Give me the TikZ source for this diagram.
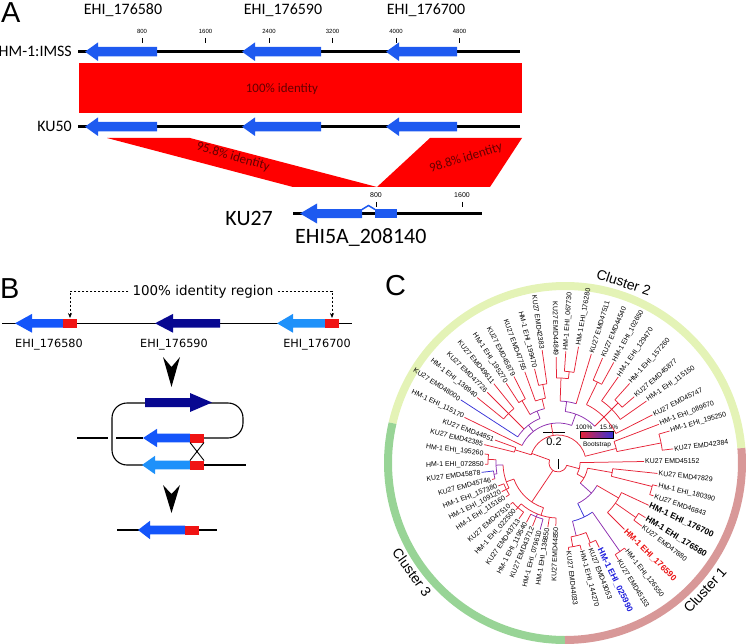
\documentclass[tikz,border=0pt]{standalone}
\usepackage{fontspec}
\setmainfont{Carlito}
\newfontfamily\dejavu{DejaVu Sans}
\newfontfamily\arialf{Liberation Sans}
\usetikzlibrary{arrows.meta}

\definecolor{gblue}{RGB}{30,90,240}
\definecolor{bandtext}{RGB}{100,0,0}
\definecolor{bblue}{RGB}{20,85,250}
\definecolor{bnavy}{RGB}{8,8,145}
\definecolor{blight}{RGB}{30,145,250}
\definecolor{bred}{RGB}{240,20,20}
\definecolor{tred}{RGB}{230,35,55}
\definecolor{tpur}{RGB}{140,45,175}
\definecolor{tblu}{RGB}{55,50,215}
\definecolor{lred}{RGB}{235,20,20}
\definecolor{lblu}{RGB}{30,30,220}
\definecolor{ctwo}{RGB}{228,243,182}
\definecolor{cthree}{RGB}{152,212,150}
\definecolor{cone}{RGB}{216,152,152}

% gene arrow: tip x, head base x, tail x, y, half shaft, half head, colour
\newcommand{\genearrow}[7]{%
  \fill[#7] (#1,-#4) -- (#2,{-#4+#6}) -- (#2,{-#4+#5}) -- (#3,{-#4+#5})
    -- (#3,{-#4-#5}) -- (#2,{-#4-#5}) -- (#2,{-#4-#6}) -- cycle;}
% red block: x1, x2, y, half height
\newcommand{\redblock}[4]{\fill[bred] (#1,{-#3+#4}) rectangle (#2,{-#3-#4});}
% tree pieces: radial (angle, r1, r2, colour) and arc (radius, a1, a2, colour)
\newcommand{\brr}[4]{\draw[treeline,#4] (#1:#2) -- (#1:#3);}
\newcommand{\brarc}[4]{\draw[treeline,#4] (#2:#1) arc[start angle=#2, end angle=#3, radius=#1];}

\begin{document}
\begin{tikzpicture}[x=1bp, y=1bp,
    panel/.style={font=\arialf\fontsize{29}{31}\selectfont, inner sep=0pt, anchor=base west},
    glab/.style={font=\fontsize{16}{18}\selectfont, inner sep=0pt, anchor=base},
    glab27/.style={font=\fontsize{22}{24}\selectfont, inner sep=0pt},
    scl/.style={font=\arialf\fontsize{6}{7}\selectfont, inner sep=0pt, anchor=base},
    tck/.style={line width=0.6bp},
    chrom/.style={line width=2.5bp},
    idlab/.style={font=\fontsize{13}{15}\selectfont, text=bandtext, inner sep=0pt},
    blab/.style={font=\dejavu\fontsize{11.3}{13}\selectfont, inner sep=0pt, anchor=base},
    bline/.style={line width=1.1bp},
    treeline/.style={line width=0.75bp},
    tiplab/.style={font=\arialf\fontsize{7}{8}\selectfont, inner sep=1bp},
    ringband/.style={line width=8bp},
    cluslab/.style={font=\arialf\fontsize{14}{16}\selectfont, inner sep=0pt}
]
\useasboundingbox (0,0) rectangle (750,-644);

% ---------------- A ----------------
\node[panel] (pa) at (1,-23) {A};
\node[glab] (g580) at (123,-15) {EHI\_176580};
\node[glab] (g590) at (283,-15) {EHI\_176590};
\node[glab] (g700) at (426,-15) {EHI\_176700};
\foreach \k/\v in {1/800,2/1600,3/2400,4/3200,5/4000,6/4800} {
  \draw[tck] ({78.5+63.5*\k},-38) -- ({78.5+63.5*\k},-43);
  \node[scl] (sc\k) at ({78.5+63.5*\k},-34) {\v};
}

\node[glab, anchor=base east] (hm) at (72,-57) {HM-1:IMSS};
\draw[chrom] (78,-51.7) -- (520,-51.7);
\genearrow{85}{98}{157}{51.7}{4.7}{9.3}{gblue}
\genearrow{242}{255}{321}{51.7}{4.7}{9.3}{gblue}
\genearrow{386}{399}{457}{51.7}{4.7}{9.3}{gblue}

\fill[red] (79,-63) rectangle (522,-113);
\node[idlab, anchor=base] (id100) at (282,-92.2) {100\% identity};

\node[glab, anchor=base east] (ku50) at (72,-131.5) {KU50};
\draw[chrom] (78,-126.7) -- (520,-126.7);
\genearrow{85}{98}{157}{126.7}{4.7}{9.3}{gblue}
\genearrow{242}{255}{321}{126.7}{4.7}{9.3}{gblue}
\genearrow{386}{399}{457}{126.7}{4.7}{9.3}{gblue}

% bands down to KU27
\fill[red] (107,-138) -- (190,-138) -- (377,-187) -- (293,-187) -- cycle;
\fill[red] (430,-138) -- (522,-138) -- (490,-187) -- (377,-187) -- cycle;
\node[idlab, rotate=-16] (id958) at (233,-157) {95.8\% identity};
\node[idlab, rotate=17] (id988) at (466,-158) {98.8\% identity};

\foreach \k/\v in {1/800,2/1600} {
  \draw[tck] ({290+86*\k},-202) -- ({290+86*\k},-207);
  \node[scl, font=\arialf\fontsize{7}{8}\selectfont] (kt\k) at ({290+86*\k},-198) {\v};
}
\node[glab27, anchor=base east] (ku27) at (273,-225) {KU27};
\draw[chrom] (293,-213.5) -- (482,-213.5);
\genearrow{300}{317}{362}{213.5}{4.5}{10}{gblue}
\draw[gblue, line width=1.5bp] (362,-209.5) -- (368.5,-205.5) -- (375,-209.5);
\fill[gblue] (375,-209) rectangle (397,-218);
\node[glab27, anchor=base west] (ehi5a) at (295,-243) {EHI5A\_208140};

% ---------------- B ----------------
\node[panel] (pb) at (0,-298) {B};
\draw[bline] (2,-323.3) -- (352,-323.3);
\genearrow{15}{32}{63}{323.3}{4.3}{9.4}{bblue}
\redblock{63}{77}{323.3}{4.5}
\genearrow{155}{173}{220}{323.3}{4.3}{9.4}{bnavy}
\genearrow{277}{293}{325}{323.3}{4.3}{9.4}{blight}
\redblock{325}{339}{323.3}{4.5}

\node[blab, font=\dejavu\fontsize{13.5}{15}\selectfont] (idreg) at (203,-295) {100\% identity region};
\coordinate (rl) at (70,-318);
\coordinate (rr) at (332,-318);
\draw[line width=0.7bp, dash pattern=on 2.5bp off 1.5bp, -{Stealth[length=5bp,width=4bp]}]
  ([xshift=-4bp,yshift=4bp]idreg.base west) -| (rl);
\draw[line width=0.7bp, dash pattern=on 2.5bp off 1.5bp, -{Stealth[length=5bp,width=4bp]}]
  ([xshift=4bp,yshift=4bp]idreg.base east) -| (rr);

\node[blab] (b580) at (49,-347) {EHI\_176580};
\node[blab] (b590) at (174,-347) {EHI\_176590};
\node[blab] (b700) at (317,-347) {EHI\_176700};

\fill (163,-357) -- (171.5,-387) -- (180,-357) -- (171.5,-367) -- cycle;

% recombination loop
\draw[bline, rounded corners=15bp] (204,-438) -- (243,-438) -- (243,-403) -- (112,-403) -- (112,-465) -- (143,-465);
\genearrow{212}{190}{145}{402.5}{4.5}{9.5}{bnavy}
\draw[bline] (77,-438) -- (108,-438);
\draw[bline] (116,-438) -- (143,-438);
\genearrow{143}{157}{190}{438}{4.3}{9.2}{bblue}
\redblock{190}{204}{438}{4.5}
\genearrow{142}{155}{190}{465}{4.3}{9.2}{blight}
\redblock{190}{204}{465}{4.5}
\draw[bline] (204,-465) -- (246,-465);
\draw[line width=0.9bp] (190,-442.5) -- (204,-460.5) (204,-442.5) -- (190,-460.5);

\fill (163,-485) -- (171.5,-513) -- (180,-485) -- (171.5,-494) -- cycle;

\draw[bline] (117,-530) -- (217,-530);
\genearrow{138}{150}{185}{530}{4.3}{9.2}{bblue}
\redblock{185}{199}{530}{4.5}

% ---------------- C ----------------
\node[panel] (pc) at (385,-295) {C};

\begin{scope}[shift={(565,-463)}]
  \draw[ringband, ctwo] (4.8:177) arc[start angle=4.8, end angle=167, radius=177];
  \draw[ringband, cthree] (167:177) arc[start angle=167, end angle=270, radius=177];
  \draw[ringband, cone] (270:177) arc[start angle=270, end angle=364.8, radius=177];
  \node[cluslab, rotate=-18] (cl2) at (72:190) {Cluster 2};
  \node[cluslab, rotate=-54.5] (cl3) at (215.5:188) {Cluster 3};
  \node[cluslab, rotate=47.8] (cl1) at (-42.2:189) {Cluster 1};
\end{scope}

% scale bar and bootstrap legend
\draw[line width=0.8bp] (543,-432) -- (565,-432);
\node[font=\arialf\fontsize{11}{12}\selectfont, inner sep=0pt, anchor=base] (sbar) at (554,-445) {0.2};
\shade[left color=tred, right color=tblu] (580,-431) rectangle (613,-438);
\draw[line width=0.3bp] (580,-431) rectangle (613,-438);
\node[font=\arialf\fontsize{6.5}{7}\selectfont, inner sep=0pt, anchor=base] (bs1) at (584,-429.5) {100\%};
\node[font=\arialf\fontsize{6.5}{7}\selectfont, inner sep=0pt, anchor=base] (bs2) at (609,-429.5) {15.9\%};
\node[font=\arialf\fontsize{6.5}{7}\selectfont, inner sep=0pt, anchor=base] (bs3) at (597,-446) {Bootstrap};

\begin{scope}[shift={(558,-463)}]
  % root
  \brarc{9}{160}{345}{tred}
  \draw[line width=0.6bp] (0,4) -- (0,-6);
  % cluster 2
  \brr{160}{9}{28}{tred} \brarc{28}{14}{163}{tred}
  \brr{163}{28}{45}{tred} \brarc{45}{160}{166}{tred}
  \brr{100}{28}{40}{tred} \brarc{40}{70}{154}{tpur}
  \brr{128}{40}{48}{tpur} \brarc{48}{112}{147}{tpur}
  \brr{135}{48}{70}{tred} \brarc{70}{129}{141}{tred}
  \brr{112}{48}{56}{tpur} \brarc{56}{104}{120}{tpur}
  \brr{120}{56}{72}{tred} \brarc{72}{117}{123}{tred}
  \brr{104}{56}{66}{tred} \brarc{66}{101}{110}{tred}
  \brr{101}{66}{80}{tred} \brarc{80}{98}{104}{tred}
  \brr{70}{40}{52}{tpur} \brarc{52}{45}{82}{tpur}
  \brr{82}{52}{62}{tpur} \brarc{62}{73}{88}{tpur}
  \brr{88}{62}{85}{tred} \brarc{85}{83}{91}{tred}
  \brr{83}{85}{92}{tred} \brarc{92}{80}{86}{tred}
  \brr{45}{52}{65}{tred} \brarc{65}{27}{64}{tred}
  \brr{64}{65}{90}{tred} \brarc{90}{61}{67}{tred}
  \brr{45}{65}{76}{tred} \brarc{76}{35}{55}{tred}
  \brr{45}{76}{85}{tred} \brarc{85}{41}{48}{tred}
  \brr{14}{28}{60}{tred} \brarc{60}{11}{21}{tred}
  \brr{11}{60}{105}{tred} \brarc{105}{7}{16}{tred}
  % cluster 3
  \brr{236}{9}{47}{tred} \brarc{47}{200}{252}{tred}
  \brr{200}{47}{55}{tred} \brarc{55}{182}{207}{tred}
  \brr{182}{55}{62}{tpur} \brarc{62}{177}{190}{tpur}
  \brr{177}{62}{70}{tred} \brarc{70}{173}{181}{tred}
  \brr{190}{62}{65}{tpur} \brarc{65}{187}{194}{tpur}
  \brr{207}{55}{58}{tred} \brarc{58}{201}{213}{tred}
  \brr{252}{47}{55}{tred} \brarc{55}{228}{268}{tred}
  \brr{228}{55}{60}{tred} \brarc{60}{221}{235}{tred}
  \brr{248}{55}{58}{tpur} \brarc{58}{242}{255}{tpur}
  % cluster 1
  \brr{345}{9}{22}{tred} \brarc{22}{330}{361}{tred}
  \brr{330}{22}{30}{tred} \brarc{30}{318}{350}{tred}
  \brr{350}{30}{55}{tred} \brarc{55}{346}{354}{tred}
  \brr{346}{55}{97}{tred} \brarc{97}{341}{347}{tred}
  \brr{318}{30}{45}{tpur} \brarc{45}{296}{330}{tpur}
  \brr{330}{45}{70}{tred} \brarc{70}{315}{335}{tred}
  \brr{325}{70}{95}{tred} \brarc{95}{323}{328}{tred}
  \brr{296}{45}{60}{tblu} \brarc{60}{284}{305}{tblu}
  \brr{305}{60}{108}{tpur} \brarc{108}{302}{308}{tred}
  \brr{284}{60}{75}{tpur} \brarc{75}{280}{292}{tred}
  \brr{280}{75}{85}{tred} \brarc{85}{277}{285}{tred}
  \brr{292}{75}{86}{tred} \brarc{86}{291}{296}{tred}

  % tips on the right half
  \foreach \a/\p/\r/\c/\t [count=\i] in {
      7/105/116/tred/{KU27 EMD42384},
      16/105/116/tred/{HM-1 EHI\_195250},
      21/60/108/tred/{HM-1 EHI\_089670},
      27/65/106/tred/{KU27 EMD45747},
      35/76/108/tred/{HM-1 EHI\_115150},
      41/85/101/tred/{KU27 EMD45877},
      48/85/107/tred/{HM-1 EHI\_157260},
      55/76/105/tred/{HM-1 EHI\_129470},
      61/90/115/tred/{HM-1 EHI\_102650},
      67/90/114/tred/{KU27 EMD44540},
      73/62/114/tred/{KU27 EMD47511},
      80/92/118/tred/{HM-1 EHI\_176280},
      86/92/112/tred/{HM-1 EHI\_067730},
      1/22/86/tred/{KU27 EMD45152},
      -6/55/100/tred/{KU27 EMD47829},
      -13/97/102/tred/{HM-1 EHI\_180390},
      -19/97/101/tred/{KU27 EMD46843},
      -25/70/100/tred/{\fontsize{8.5}{9}\selectfont\bfseries HM-1 EHI\_176700},
      -32/95/103/tred/{\fontsize{8.5}{9}\selectfont\bfseries HM-1 EHI\_176580},
      -37/95/105/tred/{KU27 EMD47880},
      -45/70/94/tred/{\fontsize{8.5}{9}\selectfont\bfseries\color{lred}HM-1 EHI\_176590},
      -52/108/110/tred/{HM-1 EHI\_126550},
      -58/108/114/tred/{KU27 EMD45153},
      -64/86/94/tred/{\fontsize{8.5}{9}\selectfont\bfseries\color{lblu}HM-1 EHI\_025990},
      -69/86/90/tred/{KU27 EMD43053},
      -75/85/90/tred/{HM-1 EHI\_144270},
      -83/85/88/tred/{KU27 EMD44033}} {
    \node[tiplab, anchor=west, rotate=\a] (rt\i) at (\a:\r) {\t};
    \draw[treeline, \c] (\a:\p) -- (rt\i.west);
  }
  % tips on the left half
  \foreach \a/\p/\r/\c/\t [count=\i] in {
      91/85/106/tred/{KU27 EMD44849},
      98/80/114/tred/{KU27 EMD42383},
      104/80/97/tred/{HM-1 EHI\_199470},
      110/66/97/tred/{KU27 EMD47755},
      117/72/97/tred/{KU27 EMD45879},
      123/72/95/tred/{HM-1 EHI\_195270},
      129/70/102/tred/{KU27 EMD49611},
      135/70/100/tred/{KU27 EMD47726},
      141/70/104/tred/{HM-1 EHI\_138940},
      147/48/116/tblu/{KU27 EMD48000},
      154/40/104/tred/{HM-1 EHI\_115170},
      160/45/67/tred/{KU27 EMD44851},
      166/45/76/tred/{KU27 EMD42385},
      173/70/74/tred/{HM-1 EHI\_195260},
      181/70/73/tred/{HM-1 EHI\_072850},
      187/65/77/tblu/{KU27 EMD45878},
      194/65/68/tred/{KU27 EMD45746},
      201/58/64/tred/{HM-1 EHI\_157380},
      207/58/63/tred/{HM-1 EHI\_109120},
      213/58/62/tred/{HM-1 EHI\_115160},
      221/60/63/tred/{KU27 EMD47510},
      228/60/63/tred/{HM-1 EHI\_022500},
      235/60/68/tred/{KU27 EMD43713},
      242/58/67/tred/{HM-1 EHI\_119540},
      248/58/68/tred/{KU27 EMD43712},
      255/58/69/tpur/{HM-1 EHI\_079610},
      261/55/65/tred/{HM-1 EHI\_136850},
      268/55/63/tred/{KU27 EMD44850}} {
    \node[tiplab, anchor=east, rotate=\a-180] (lt\i) at (\a:\r) {\t};
    \draw[treeline, \c] (\a:\p) -- (lt\i.east);
  }
\end{scope}
\end{tikzpicture}
\end{document}
